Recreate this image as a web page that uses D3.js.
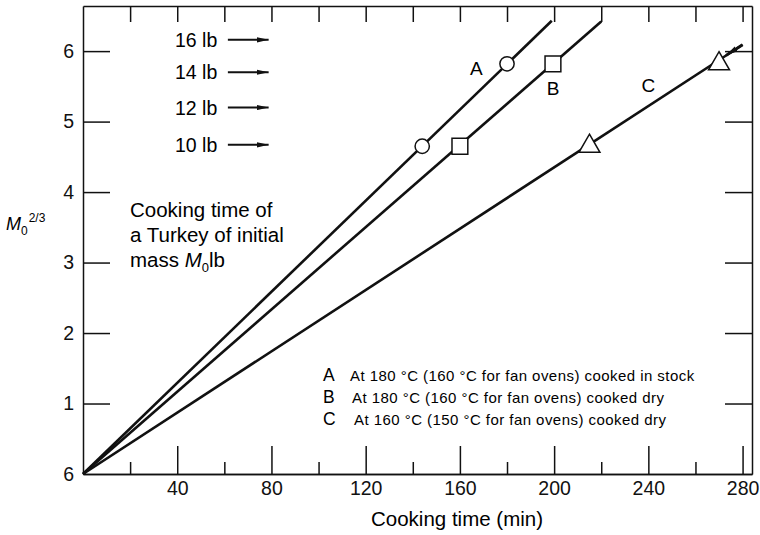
<!DOCTYPE html>
<html>
<head>
<meta charset="utf-8">
<script src="https://cdn.jsdelivr.net/npm/d3@7"></script>
<style>
  body { margin: 0; background: #fff; }
  svg { font-family: "Liberation Sans", Arial, Helvetica, sans-serif; }
  .axis path, .axis line { stroke: #111; stroke-width: 1.5; }
  .axis text { font-size: 19.5px; fill: #111; }
</style>
</head>
<body>
<svg id="chart"></svg>
<script>
// values
const series = ['A', 'B', 'C']
const lineEnds = [[199, 6.43], [220, 6.42], [280, 6.09]]         // lines start at origin
const markerTimes = [[144, 180], [160, 199.5], [215, 270]]        // minutes
const markerVals = [4.65, 5.82]                                   // 10 lb and 14 lb
const seriesLabelPos = [[167, 5.76], [199.6, 5.48], [240, 5.52]]
const massLabels = ['16 lb', '14 lb', '12 lb', '10 lb']
const massLabelVals = [6.16, 5.70, 5.20, 4.67]
const xTicks = [20, 40, 60, 80, 100, 120, 140, 160, 180, 200, 220, 240, 260, 280]
const xLabelled = [40, 80, 120, 160, 200, 240, 280]
const yTicks = [0, 1, 2, 3, 4, 5, 6]
const yTickLabels = ['6', '1', '2', '3', '4', '5', '6']
const legendText = [
  'At 180 °C (160 °C for fan ovens) cooked in stock',
  'At 180 °C (160 °C for fan ovens) cooked dry',
  'At 160 °C (150 °C for fan ovens) cooked dry'
]

const width = 760
const height = 535
const padLeft = 83, padRight = 752, padTop = 6, padBottom = 474

const svg = d3.select('#chart').attr('width', width).attr('height', height)

const x = d3.scaleLinear().domain([0, 284]).range([padLeft, padRight])
const y = d3.scaleLinear().domain([0, 6.64]).range([padBottom, padTop])

const defs = svg.append('defs')
defs.append('marker')
  .attr('id', 'arrowBig')
  .attr('viewBox', '0 0 12 6')
  .attr('refX', 12).attr('refY', 3)
  .attr('markerWidth', 12).attr('markerHeight', 6)
  .attr('markerUnits', 'userSpaceOnUse')
  .attr('orient', 'auto')
  .append('path').attr('d', 'M0,0.3L12,3L0,5.7Z').attr('fill', '#111')

// axes (ticks point inward)
svg.append('g').attr('class', 'axis')
  .attr('transform', `translate(0,${padBottom})`)
  .call(d3.axisBottom(x).tickValues(xLabelled).tickSize(-28).tickSizeOuter(0).tickPadding(7).tickFormat(d3.format('d')))

svg.append('g').attr('class', 'axis')
  .attr('transform', `translate(0,${padBottom})`)
  .call(d3.axisBottom(x).tickValues(xTicks.filter(d => !xLabelled.includes(d))).tickSize(-12).tickSizeOuter(0).tickFormat(''))

svg.append('g').attr('class', 'axis')
  .attr('transform', `translate(0,${padTop})`)
  .call(d3.axisTop(x).tickValues(xTicks).tickSize(-16).tickSizeOuter(0).tickFormat(''))

svg.append('g').attr('class', 'axis')
  .attr('transform', `translate(${padLeft},0)`)
  .call(d3.axisLeft(y).tickValues(yTicks).tickSize(-27).tickSizeOuter(0).tickPadding(9)
    .tickFormat((d, i) => yTickLabels[i]))
  .selectAll('.tick').filter(d => d === 0).select('line').remove()

svg.append('g').attr('class', 'axis')
  .attr('transform', `translate(${padRight},0)`)
  .call(d3.axisRight(y).tickValues(yTicks.slice(1)).tickSize(-27).tickSizeOuter(0).tickFormat(''))

// axis titles
svg.append('text')
  .attr('x', 457).attr('y', 526)
  .attr('text-anchor', 'middle')
  .style('font-size', '20.5px')
  .text('Cooking time (min)')

const yl = svg.append('text').attr('x', 6).attr('y', 230).style('font-size', '18px')
yl.append('tspan').style('font-style', 'italic').text('M')
yl.append('tspan').attr('dy', 5).style('font-size', '12px').text('0')
yl.append('tspan').attr('dy', -13).attr('dx', 1).style('font-size', '12px').text('2/3')

// lines
const line = d3.line().x(d => x(d[0])).y(d => y(d[1]))
svg.selectAll('.series')
  .data(lineEnds)
  .enter()
  .append('path')
  .attr('class', 'series')
  .attr('d', d => line([[0, 0], d]))
  .attr('fill', 'none')
  .attr('stroke', '#111')
  .attr('stroke-width', 2.6)

// arrow pointing at the last C marker
svg.append('path')
  .attr('d', line([lineEnds[2], [273, 5.94]]))
  .attr('stroke', '#111').attr('stroke-width', 2.8)
  .attr('marker-end', 'url(#arrowBig)')

// markers
const shapes = [d3.symbolCircle, d3.symbolSquare, d3.symbolTriangle]
const sizes = [160, 250, 190]
series.forEach((s, i) => {
  svg.selectAll('.m' + s)
    .data(markerTimes[i])
    .enter()
    .append('path')
    .attr('class', 'm' + s)
    .attr('transform', (d, j) => `translate(${x(d)},${y(markerVals[j])})`)
    .attr('d', d3.symbol().type(shapes[i]).size(sizes[i]))
    .attr('fill', '#fff')
    .attr('stroke', '#111')
    .attr('stroke-width', 1.5)
})

// series letters on the chart
svg.selectAll('.slabel')
  .data(series)
  .enter()
  .append('text')
  .attr('class', 'slabel')
  .attr('x', (d, i) => x(seriesLabelPos[i][0]))
  .attr('y', (d, i) => y(seriesLabelPos[i][1]))
  .attr('dy', '0.36em')
  .attr('text-anchor', 'middle')
  .style('font-size', '19px')
  .text(d => d)

// mass labels with arrows
svg.selectAll('.mass')
  .data(massLabels)
  .enter()
  .append('text')
  .attr('class', 'mass')
  .attr('x', x(57))
  .attr('y', (d, i) => y(massLabelVals[i]))
  .attr('dy', '0.36em')
  .attr('text-anchor', 'end')
  .style('font-size', '19.5px')
  .text(d => d)

svg.selectAll('.massArrow')
  .data(massLabelVals)
  .enter()
  .append('line')
  .attr('class', 'massArrow')
  .attr('x1', x(61.5)).attr('x2', x(78.8))
  .attr('y1', d => y(d)).attr('y2', d => y(d))
  .attr('stroke', '#111').attr('stroke-width', 2)
  .attr('marker-end', 'url(#arrowBig)')

// description
const desc = svg.append('text').attr('x', 130).attr('y', 217).style('font-size', '20.5px')
desc.append('tspan').attr('x', 130).text('Cooking time of')
desc.append('tspan').attr('x', 130).attr('dy', 25).text('a Turkey of initial')
desc.append('tspan').attr('x', 130).attr('dy', 25).text('mass ')
desc.append('tspan').style('font-style', 'italic').text('M')
desc.append('tspan').attr('dy', 5).style('font-size', '13px').text('0')
desc.append('tspan').attr('dy', -5).text('lb')

// legend
const legend = svg.append('g').attr('transform', 'translate(323,381)')
legend.selectAll('.lk')
  .data(series)
  .enter()
  .append('text')
  .attr('y', (d, i) => i * 22)
  .style('font-size', '17.5px')
  .text(d => d)
legend.selectAll('.lt')
  .data(legendText)
  .enter()
  .append('text')
  .attr('x', (d, i) => 27 + i * 2)
  .attr('y', (d, i) => i * 22)
  .style('font-size', '15px')
  .style('letter-spacing', '0.45px')
  .text(d => d)
</script>
</body>
</html>
